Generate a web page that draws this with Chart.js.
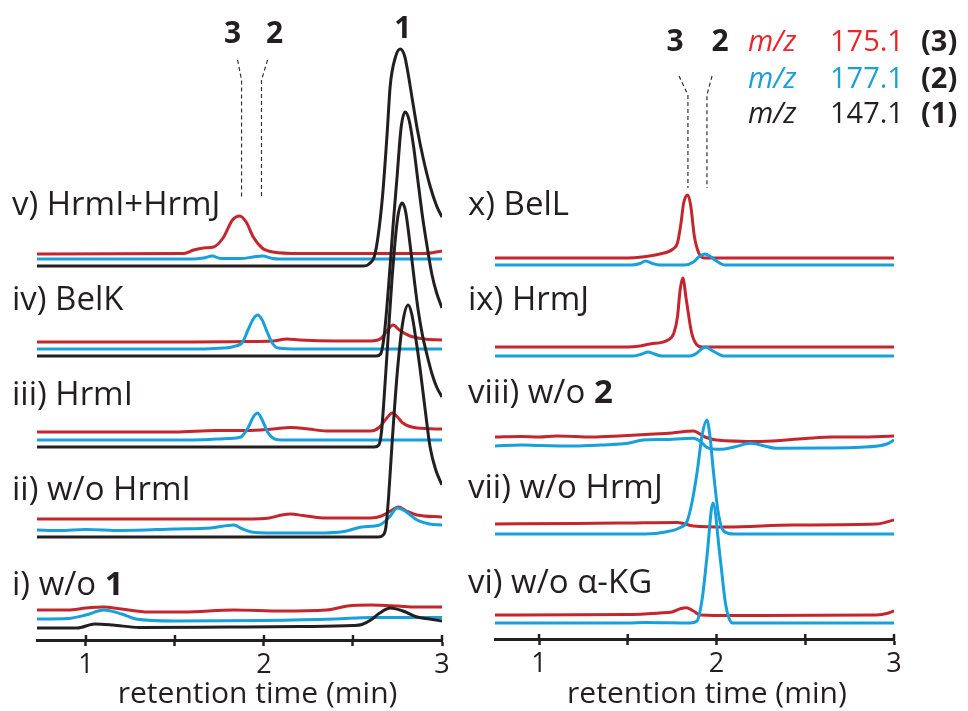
<!DOCTYPE html>
<html><head><meta charset="utf-8">
<script src="https://cdn.jsdelivr.net/npm/chart.js@4.4.0/dist/chart.umd.min.js"></script>
<style>
html,body{margin:0;padding:0;background:#fff;overflow:hidden;}
#wrap{position:relative;width:968px;height:711px;background:#fff;}
canvas{position:absolute;left:0;top:0;}
</style></head><body>
<div id="wrap"><canvas id="left" width="968" height="711"></canvas><canvas id="right" width="968" height="711"></canvas></div>
<script>
// ---------- axis ----------
const xTicks = [1, 1.5, 2, 2.5, 3];
const xTitle = 'retention time (min)';

// ---------- left panel: samples v..i (top to bottom) ----------
const leftLabels = [[['v) HrmI+HrmJ', false]], [['iv) BelK', false]], [['iii) HrmI', false]], [['ii) w/o HrmI', false]], [['i) w/o ', false], ['1', true]]];
const leftBaseRed   = [386, 298, 208, 121, 30];
const leftBaseBlue  = [381, 291, 200, 110, 21];
const leftBaseBlack = [374, 284, 193, 103, 12];

// intensities (relative to each trace baseline), [time, signal]
const v_red = [[0.725,0],[1.55,0.5],[1.605,4],[1.66,6],[1.717,7],[1.77,16],[1.823,34],[1.863,38],[1.9,32],[1.94,17],[1.99,6],[2.05,2],[2.2,0.5],[2.9,0.5],[3.0,3]];
const v_blue = [[0.725,0],[1.6,0],[1.66,1],[1.71,3],[1.756,0.5],[1.87,0.5],[1.94,2],[1.99,3],[2.05,0.5],[2.08,0],[3.0,0]];
const v_black = [[0.725,0],[2.56,0],[2.59,2],[2.625,13],[2.664,66],[2.692,133],[2.709,180],[2.737,208],[2.765,217],[2.79,210],[2.81,192],[2.832,168],[2.86,138],[2.894,108],[2.933,80],[2.97,60],[3.0,49]];

const iv_red = [[0.725,0],[1.6,0],[1.9,0.5],[2.05,1],[2.13,3],[2.2,2],[2.4,1],[2.6,1],[2.66,4],[2.69,11],[2.725,17],[2.76,12],[2.82,6],[2.9,3],[3.0,2]];
const iv_blue = [[0.725,0],[1.6,0],[1.72,0.5],[1.83,2.5],[1.88,7],[1.91,19],[1.94,30],[1.964,34],[1.99,29],[2.02,16],[2.05,5],[2.08,1],[2.2,0],[3.0,0]];
const iv_black = [[0.725,0],[2.63,0],[2.655,2],[2.675,20],[2.7,70],[2.725,130],[2.748,180],[2.77,228],[2.793,244],[2.815,236],[2.84,210],[2.86,182],[2.89,140],[2.916,110],[2.944,81],[2.97,63],[3.0,48]];

const iii_red = [[0.725,0],[1.5,0],[1.73,1.5],[1.9,1.5],[2.05,3],[2.15,4.5],[2.25,3],[2.35,1],[2.6,1],[2.65,5],[2.69,14],[2.72,19],[2.75,15],[2.78,9],[2.86,4],[3.0,3]];
const iii_blue = [[0.725,0],[1.6,0],[1.8,1.5],[1.87,3],[1.91,12],[1.94,23],[1.964,27],[1.99,20],[2.02,8],[2.05,2],[2.1,0],[3.0,0]];
const iii_black = [[0.725,0],[2.62,0],[2.645,2],[2.66,15],[2.675,50],[2.69,90],[2.72,170],[2.75,228],[2.776,244],[2.795,236],[2.821,202],[2.845,166],[2.866,137],[2.89,112],[2.916,92],[2.944,73],[2.97,60],[3.0,50]];

const ii_red = [[0.725,0],[1.9,0],[2.03,1],[2.1,4],[2.15,5],[2.22,3.5],[2.35,1],[2.6,1],[2.66,3],[2.72,9],[2.755,12],[2.8,8],[2.86,4],[3.0,2]];
const ii_blue = [[0.725,0],[0.85,-0.5],[1.0,0.5],[1.2,-0.5],[1.5,1],[1.7,2],[1.83,5],[1.88,1],[1.95,-2.5],[2.1,-3],[2.3,-3],[2.45,-1.5],[2.55,3],[2.65,5],[2.7,12],[2.75,22],[2.8,18],[2.86,10],[2.93,6],[3.0,5]];
const ii_black = [[0.725,0],[2.64,0],[2.67,2],[2.685,10],[2.7,40],[2.72,95],[2.75,167],[2.78,215],[2.81,232],[2.83,223],[2.855,196],[2.877,168],[2.905,128],[2.933,90],[2.965,67],[3.0,52]];

const i_red = [[0.725,0],[0.9,0],[1.0,2],[1.1,3],[1.2,1],[1.35,-2],[1.55,-2],[1.83,0],[2.1,-1],[2.35,0],[2.47,4],[2.6,5],[2.75,4],[2.85,3],[3.0,3]];
const i_blue = [[0.725,0],[0.9,0.5],[1.0,4],[1.1,9],[1.2,5],[1.28,0],[1.5,-2],[2.0,-1.5],[2.4,0],[2.6,1.5],[3.0,1.5]];
const i_black = [[0.725,0],[0.95,0],[1.05,4],[1.15,3],[1.3,0.5],[1.8,1],[2.2,1.5],[2.5,2.5],[2.55,3.5],[2.6,8],[2.65,15],[2.71,20],[2.78,17],[2.86,11],[2.93,9],[3.0,7]];

const leftRed = [v_red, iv_red, iii_red, ii_red, i_red];
const leftBlue = [v_blue, iv_blue, iii_blue, ii_blue, i_blue];
const leftBlack = [v_black, iv_black, iii_black, ii_black, i_black];

// ---------- right panel: samples x..vi ----------
const rightLabels = [[['x) BelL', false]], [['ix) HrmJ', false]], [['viii) w/o ', false], ['2', true]], [['vii) w/o HrmJ', false]], [['vi) w/o \u03b1-KG', false]]];
const rightBaseRed  = [381, 292, 202, 115, 24];
const rightBaseBlue = [374, 283, 193, 105, 16];

const x_red = [[0.752,0],[1.5,0],[1.58,1],[1.68,4],[1.755,9],[1.78,15],[1.8,35],[1.815,55],[1.838,63],[1.855,52],[1.875,22],[1.9,5],[1.93,0],[3.0,0]];
const x_blue = [[0.752,0],[1.52,0],[1.57,1.5],[1.6,4],[1.64,1.5],[1.68,0],[1.82,0],[1.87,3],[1.9,8],[1.935,11],[1.97,8],[2.0,4],[2.05,0],[3.0,0]];
const ix_red = [[0.752,0],[1.5,0],[1.57,1],[1.625,3],[1.727,7],[1.76,14],[1.78,30],[1.795,57],[1.81,69],[1.83,47],[1.86,14],[1.89,2],[1.92,0],[3.0,0]];
const ix_blue = [[0.752,0],[1.53,0],[1.58,2],[1.614,4],[1.65,2],[1.69,0],[1.85,0],[1.89,3],[1.915,7],[1.94,9],[1.97,6],[2.0,3],[2.04,0],[3.0,0]];
const viii_red = [[0.752,0],[0.9,0.5],[1.0,0],[1.1,1],[1.3,0],[1.45,1],[1.6,2.5],[1.75,4],[1.87,6],[1.935,0],[2.0,-3],[2.25,-4.5],[2.5,-1.5],[2.65,0],[2.8,0],[3.0,1]];
const viii_blue = [[0.752,0],[0.9,1],[1.0,0.5],[1.2,0],[1.35,1],[1.5,2.7],[1.586,6],[1.7,6.5],[1.87,7.7],[1.91,4.3],[1.945,-1.3],[2.02,-3.3],[2.1,-1],[2.19,2.7],[2.34,-2.3],[2.6,-2],[2.81,-1.3],[2.96,2],[3.0,6]];
const vii_red = [[0.752,0],[1.2,0.5],[1.5,1],[1.78,1.5],[1.87,-2],[2.06,-3],[2.43,-1],[2.9,0],[3.0,4]];
const vii_blue = [[0.752,0],[1.6,0],[1.72,2.3],[1.79,6],[1.834,12.6],[1.86,30],[1.89,61],[1.92,100],[1.946,114],[1.965,95],[1.98,67],[2.01,21],[2.04,3],[2.1,0],[3.0,0]];
const vi_red = [[0.752,0],[1.5,0.5],[1.68,2],[1.75,3],[1.8,6.5],[1.83,7.3],[1.87,4],[1.91,0],[2.1,-0.5],[2.9,0],[2.97,2],[3.0,4]];
const vi_blue = [[0.752,0],[1.5,0],[1.6,0.5],[1.85,0],[1.89,2],[1.92,25],[1.946,66],[1.98,120],[2.02,66],[2.05,20],[2.07,5],[2.09,0],[3.0,0]];

const rightRed = [x_red, ix_red, viii_red, vii_red, vi_red];
const rightBlue = [x_blue, ix_blue, viii_blue, vii_blue, vi_blue];

// peak markers (dashed guides) [time, y]
const guide3Left  = [[1.852,580],[1.874,560],[1.874,443]];
const guide2Left  = [[2.02,580],[1.986,560],[1.986,443]];
const guide3Right = [[1.789,563],[1.839,544],[1.839,451]];
const guide2Right = [[1.975,563],[1.946,544],[1.946,451]];
const peakIdsLeft  = [['3',1.824,597],['2',2.059,597],['1',2.78,602]];
const peakIdsRight = [['3',1.766,588],['2',2.02,588]];

// legend
const legendMz = ['175.1', '177.1', '147.1'];
const legendIds = ['3', '2', '1'];

// ---------- styles ----------
const INK = '#231f20';
const RED = '#c4262e';
const BLUE = '#17a0dc';
const LEG_RED = '#e8262b';
const LEG_BLUE = '#1c9fd9';
const FONT = '"Open Sans", "Noto Sans", sans-serif';
const LW = 3;

function trace(points, base, color, width, order) {
  return { data: points.map(p => ({x: p[0], y: p[1] + base})), borderColor: color, borderWidth: width,
    pointRadius: 0, fill: false, cubicInterpolationMode: 'monotone', order: order };
}
function guide(points) {
  return { data: points.map(p => ({x: p[0], y: p[1]})), borderColor: '#333', borderWidth: 1.2, borderDash: [4, 3],
    pointRadius: 0, fill: false, tension: 0, order: 5 };
}

const annot = {
  id: 'annot',
  afterDraw(chart, args, o) {
    const ctx = chart.ctx, xs = chart.scales.x, ys = chart.scales.y;
    ctx.save();
    // tick marks crossing the axis
    ctx.strokeStyle = INK; ctx.lineWidth = 2.5;
    const yb = chart.chartArea.bottom;
    xTicks.forEach(t => { const px = xs.getPixelForValue(t); ctx.beginPath(); ctx.moveTo(px, yb - 5); ctx.lineTo(px, yb + 1); ctx.stroke(); });
    // axis title
    ctx.fillStyle = INK; ctx.textBaseline = 'alphabetic'; ctx.textAlign = 'center';
    ctx.font = '30px ' + FONT;
    ctx.fillText(xTitle, xs.getPixelForValue(o.titleT), o.titleY);
    // sample labels
    ctx.textAlign = 'left';
    o.labels.forEach((segs, i) => {
      let x = o.labelX; const y = ys.getPixelForValue(o.labelY[i]);
      segs.forEach(([txt, bold]) => { ctx.font = (bold ? 'bold ' : '') + '33px ' + FONT; ctx.fillText(txt, x, y); x += ctx.measureText(txt).width; });
    });
    // peak ids
    ctx.textAlign = 'center'; ctx.font = 'bold 30px ' + FONT;
    o.peaks.forEach(([txt, t, v]) => ctx.fillText(txt, xs.getPixelForValue(t), ys.getPixelForValue(v)));
    // legend
    if (o.legend) {
      const cols = [LEG_RED, LEG_BLUE, INK];
      ctx.textAlign = 'left';
      legendMz.forEach((mz, i) => {
        const y = ys.getPixelForValue(o.legendY[i]);
        ctx.fillStyle = cols[i];
        ctx.font = 'italic 29px ' + FONT; ctx.fillText('m/z', 748, y);
        ctx.font = '29px ' + FONT; ctx.fillText(mz, 830, y);
        ctx.fillStyle = INK;
        ctx.font = 'bold 29px ' + FONT; ctx.fillText('(' + legendIds[i] + ')', 921, y);
      });
    }
    ctx.restore();
  }
};

function xScale(min, height) {
  return {
    type: 'linear', min: min, max: 3,
    afterBuildTicks: s => { s.ticks = xTicks.map(v => ({value: v})); },
    afterFit: s => { s.height = height; },
    ticks: { callback: v => Number.isInteger(v) ? String(v) : '', color: INK, font: {family: FONT, size: 27}, padding: 3, maxRotation: 0, autoSkip: false },
    grid: { display: true, drawOnChartArea: false, drawTicks: true, tickLength: 6, tickWidth: 2.5, tickColor: INK },
    border: { display: true, color: INK, width: 3 },
    title: { display: false, text: xTitle }
  };
}
function baseOptions(min, height, pad, annotOpts) {
  return {
    responsive: false, animation: false, devicePixelRatio: 1,
    layout: { padding: pad },
    plugins: { legend: {display: false}, tooltip: {enabled: false}, annot: annotOpts },
    events: [],
    scales: { x: xScale(min, height), y: { type: 'linear', min: 0, max: 600, display: false } }
  };
}

// left chart
const leftSets = [];
leftBlack.forEach((d, i) => leftSets.push(trace(d, leftBaseBlack[i], INK, LW, 0)));
leftBlue.forEach((d, i) => leftSets.push(trace(d, leftBaseBlue[i], BLUE, LW, 1)));
leftRed.forEach((d, i) => leftSets.push(trace(d, leftBaseRed[i], RED, LW, 2)));
leftSets.push(guide(guide3Left), guide(guide2Left));
new Chart(document.getElementById('left'), {
  type: 'line', data: { datasets: leftSets },
  options: baseOptions(0.725, 71, {left: 37, right: 526, top: 40, bottom: 0},
    { labels: leftLabels, labelX: 12, labelY: [425, 330, 235, 140, 45], peaks: peakIdsLeft, legend: false, titleT: 1.964, titleY: 703 }),
  plugins: [annot]
});

// right chart
const rightSets = [];
rightBlue.forEach((d, i) => rightSets.push(trace(d, rightBaseBlue[i], BLUE, LW, 1)));
rightRed.forEach((d, i) => rightSets.push(trace(d, rightBaseRed[i], RED, LW, 2)));
rightSets.push(guide(guide3Right), guide(guide2Right));
new Chart(document.getElementById('right'), {
  type: 'line', data: { datasets: rightSets },
  options: baseOptions(0.752, 72, {left: 495, right: 74, top: 39, bottom: 0},
    { labels: rightLabels, labelX: 468, labelY: [424, 329, 236, 141, 46], peaks: peakIdsRight, legend: true, legendY: [588, 551, 516], titleT: 1.946, titleY: 703 }),
  plugins: [annot]
});
</script>
</body></html>
